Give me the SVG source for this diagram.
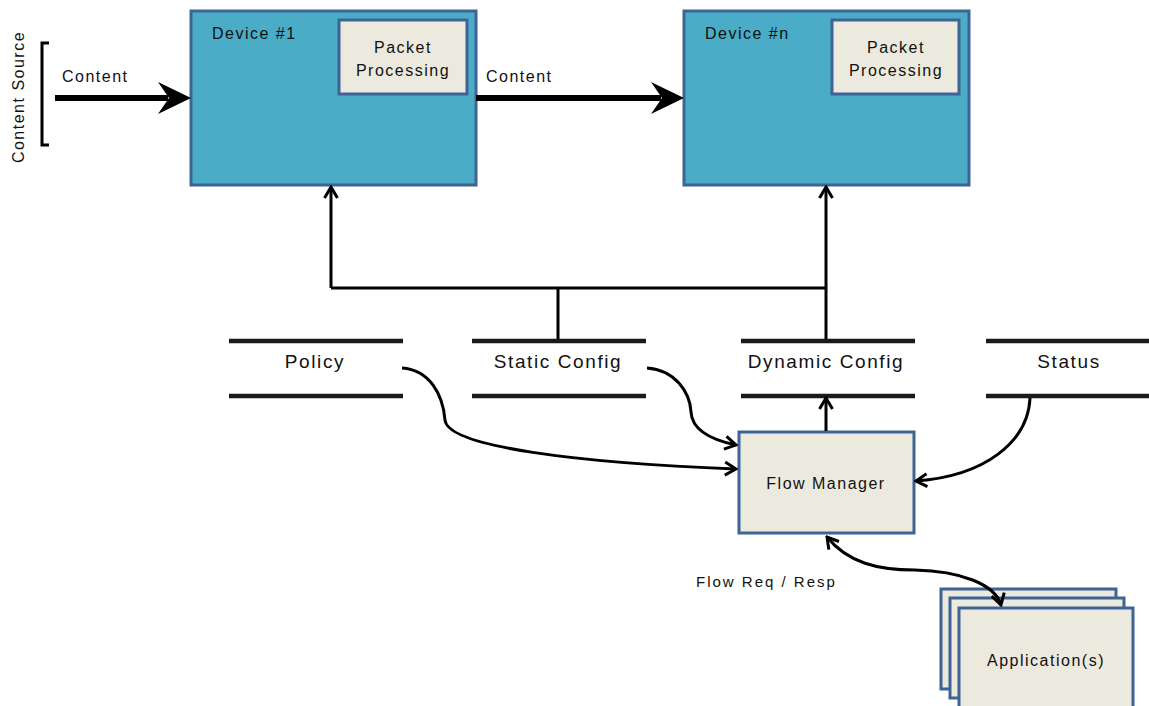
<svg xmlns="http://www.w3.org/2000/svg" width="1149" height="706" viewBox="0 0 1149 706">
<style>
text{font-family:"Liberation Sans",Arial,sans-serif;fill:#111}
.dev{fill:#4aacc6;stroke:#3d6494;stroke-width:3}
.box{fill:#eceade;stroke:#3d6494;stroke-width:3}
.lbl{font-size:16px;letter-spacing:1.5px}
.st{font-size:19px;letter-spacing:1.6px;text-anchor:middle}
.bar{stroke:#1a1a1a;stroke-width:4.5}
.con{fill:none;stroke:#000;stroke-width:3}
.thick{fill:none;stroke:#000;stroke-width:6}
</style>
<defs>
<marker id="open" viewBox="0 0 16 16" refX="14" refY="8" markerWidth="16" markerHeight="16" markerUnits="userSpaceOnUse" orient="auto-start-reverse">
<path d="M3,1.5 L14,8 L3,14.5" fill="none" stroke="#000" stroke-width="3"/>
</marker>
</defs>
<rect width="1149" height="706" fill="#fff"/>

<g id="content-source">
<path d="M49,43 L42,43 L42,145 L49,145" fill="none" stroke="#000" stroke-width="3"/>
<text class="lbl" text-anchor="middle" transform="translate(24,97) rotate(-90)">Content Source</text>
</g>

<g id="device1">
<rect class="dev" x="191" y="11" width="285" height="174"/>
<text class="lbl" x="212" y="39">Device #1</text>
<rect class="box" x="339" y="20" width="128" height="74"/>
<text class="lbl" x="403" y="53" text-anchor="middle" letter-spacing="1.3">Packet</text>
<text class="lbl" x="403" y="76" text-anchor="middle" letter-spacing="1.3">Processing</text>
</g>

<g id="devicen">
<rect class="dev" x="684" y="11" width="285" height="174"/>
<text class="lbl" x="705" y="39">Device #n</text>
<rect class="box" x="832" y="20" width="127" height="74"/>
<text class="lbl" x="896" y="53" text-anchor="middle" letter-spacing="1.3">Packet</text>
<text class="lbl" x="896" y="76" text-anchor="middle" letter-spacing="1.3">Processing</text>
</g>

<g id="policy">
<line class="bar" x1="229" y1="341" x2="403" y2="341"/>
<line class="bar" x1="229" y1="396" x2="403" y2="396"/>
<text class="st" x="315" y="368">Policy</text>
</g>
<g id="static-config">
<line class="bar" x1="472" y1="341" x2="646" y2="341"/>
<line class="bar" x1="472" y1="396" x2="646" y2="396"/>
<text class="st" x="558" y="368">Static Config</text>
</g>
<g id="dynamic-config">
<line class="bar" x1="741" y1="341" x2="915" y2="341"/>
<line class="bar" x1="741" y1="396" x2="915" y2="396"/>
<text class="st" x="826" y="368">Dynamic Config</text>
</g>
<g id="status">
<line class="bar" x1="986" y1="341" x2="1149" y2="341"/>
<line class="bar" x1="986" y1="396" x2="1149" y2="396"/>
<text class="st" x="1069" y="368">Status</text>
</g>

<g id="flow-manager">
<rect class="box" x="739" y="432" width="175" height="101"/>
<text class="lbl" x="826" y="489" text-anchor="middle" letter-spacing="1.6">Flow Manager</text>
</g>

<g id="applications">
<rect class="box" x="941" y="589" width="175" height="100"/>
<rect class="box" x="950" y="598" width="174" height="100"/>
<rect class="box" x="959" y="608" width="174" height="110"/>
<text class="lbl" x="1046" y="666" text-anchor="middle" letter-spacing="1.4">Application(s)</text>
</g>

<g id="connectors">
<line class="thick" x1="55" y1="98" x2="168" y2="98"/>
<path d="M191,98 L158,82 L169,98 L158,114 Z" fill="#000"/>
<text class="lbl" x="62" y="82">Content</text>
<line class="thick" x1="476" y1="98" x2="661" y2="98"/>
<path d="M684,98 L651,82 L662,98 L651,114 Z" fill="#000"/>
<text class="lbl" x="486" y="82">Content</text>

<path class="con" d="M558,339 L558,288 M331,288 L826,288" />
<path class="con" d="M331,288 L331,187" marker-end="url(#open)"/>
<path class="con" d="M826,339 L826,187" marker-end="url(#open)"/>
<path class="con" d="M826,431 L826,398" marker-end="url(#open)"/>

<path class="con" d="M402,368 C430,370 443,395 445,420 C447,447 580,463 736,469" marker-end="url(#open)"/>
<path class="con" d="M647,368 C675,370 690,392 691,412 C692,430 712,440 736,445" marker-end="url(#open)"/>
<path class="con" d="M1030,398 C1028,442 985,476 916,481" marker-end="url(#open)"/>
<path class="con" d="M827,537 C848,563 878,570 915,570 C960,571 995,584 1001,605" marker-start="url(#open)" marker-end="url(#open)"/>
<text x="696" y="587" font-size="15" letter-spacing="2">Flow Req / Resp</text>
</g>
</svg>
